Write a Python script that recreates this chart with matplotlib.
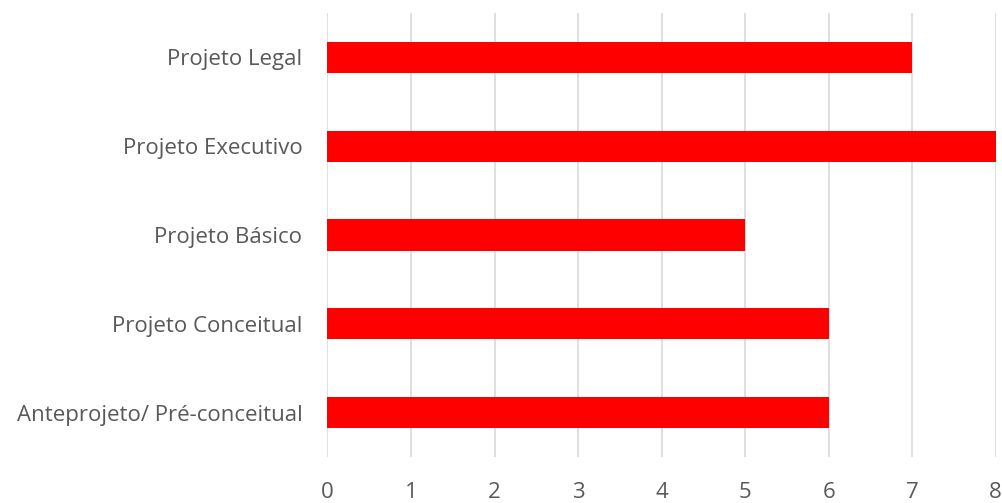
import matplotlib
matplotlib.use("Agg")
import matplotlib.pyplot as plt

categories = ["Anteprojeto/ Pré-conceitual", "Projeto Conceitual", "Projeto Básico",
              "Projeto Executivo", "Projeto Legal"]
values = [6, 6, 5, 8, 7]
xticks = [0, 1, 2, 3, 4, 5, 6, 7, 8]

plt.rcParams['font.family'] = ['Open Sans', 'DejaVu Sans']

fig = plt.figure(figsize=(10.02, 5.03), dpi=100)
ax = fig.add_axes([0.3268, 0.0915, 0.9937 - 0.3268, 0.974 - 0.0915])
ax.barh(range(len(categories)), values, height=0.35, color="#FF0000", zorder=3)
ax.set_xlim(0, 8)
ax.set_ylim(-0.5, len(categories) - 0.5)
ax.set_xticks(xticks)
ax.set_yticks(range(len(categories)))
ax.set_yticklabels(categories)
ax.grid(axis='x', color="#D9D9D9", linewidth=1.2, zorder=0)
for s in ax.spines.values():
    s.set_visible(False)
ax.tick_params(axis='x', length=0, pad=18, labelsize=16, labelcolor="#595959")
ax.tick_params(axis='y', length=0, pad=18, labelsize=16, labelcolor="#595959")
fig.savefig("out.png", dpi=100)
